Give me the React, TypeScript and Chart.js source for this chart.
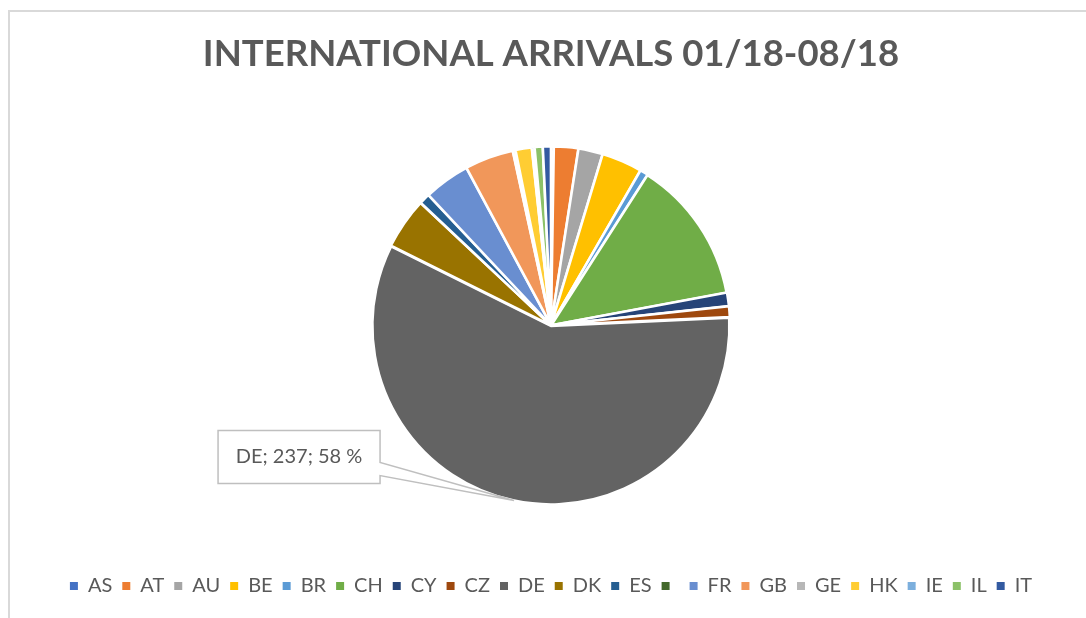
import React, { useEffect, useRef } from "react";
import { Chart, registerables } from "chart.js";

Chart.register(...registerables);

const chartTitle = "INTERNATIONAL ARRIVALS 01/18-08/18";
const categories = ["AS", "AT", "AU", "BE", "BR", "CH", "CY", "CZ", "DE", "DK", "ES", "", "FR", "GB", "GE", "HK", "IE", "IL", "IT"];
const arrivals = [1, 9, 9, 15, 3, 53, 5, 4, 237, 19, 4, 0, 17, 18, 1, 6, 1, 3, 3];
const sliceColors = [
  "#4472C4", "#ED7D31", "#A5A5A5", "#FFC000", "#5B9BD5", "#70AD47",
  "#264478", "#9E480E", "#636363", "#997300", "#255E91", "#43682B",
  "#698ED0", "#F1975A", "#B7B7B7", "#FFCD33", "#7CAFDD", "#8CC168", "#335AA1",
];
const calloutCategory = "DE";

const FONT = "Lato, 'Open Sans', sans-serif";
const TEXT = "#595959";

const calloutPlugin = {
  id: "deCallout",
  afterDatasetsDraw(chart: any) {
    const idx = categories.indexOf(calloutCategory);
    const meta = chart.getDatasetMeta(0);
    const arc = meta.data[idx];
    if (!arc) return;
    const p = arc.getProps(["x", "y", "startAngle", "endAngle", "outerRadius"], true);
    const mid = (p.startAngle + p.endAngle) / 2;
    const tipX = p.x + Math.cos(mid) * (p.outerRadius + 1);
    const tipY = p.y + Math.sin(mid) * (p.outerRadius + 1);
    const w = 162, h = 53;
    const left = tipX - 296;
    const top = tipY - 70;
    const right = left + w;
    const bottom = top + h;
    const ctx = chart.ctx;
    ctx.save();
    ctx.beginPath();
    ctx.moveTo(left, top);
    ctx.lineTo(right, top);
    ctx.lineTo(right, top + 32);
    ctx.lineTo(tipX, tipY);
    ctx.lineTo(right, top + 45);
    ctx.lineTo(right, bottom);
    ctx.lineTo(left, bottom);
    ctx.closePath();
    ctx.fillStyle = "#ffffff";
    ctx.fill();
    ctx.strokeStyle = "#bfbfbf";
    ctx.lineWidth = 1.5;
    ctx.stroke();
    const total = arrivals.reduce((a, b) => a + b, 0);
    const value = arrivals[idx];
    const pct = Math.round((value / total) * 100);
    ctx.fillStyle = TEXT;
    ctx.font = `20px ${FONT}`;
    ctx.textAlign = "center";
    ctx.textBaseline = "middle";
    ctx.fillText(`${categories[idx]}; ${value}; ${pct} %`, (left + right) / 2, (top + bottom) / 2);
    ctx.restore();
  },
};

export default function App() {
  const ref = useRef<HTMLCanvasElement | null>(null);

  useEffect(() => {
    if (!ref.current) return;
    const chart = new Chart(ref.current, {
      type: "pie",
      data: {
        labels: categories,
        datasets: [
          {
            data: arrivals,
            backgroundColor: sliceColors,
            borderColor: "#ffffff",
            borderWidth: 2.5,
            offset: 2,
          },
        ],
      },
      options: {
        responsive: false,
        animation: false,
        events: [],
        radius: 178,
        layout: { padding: { left: 16, right: 0, top: 0, bottom: 12 } },
        plugins: {
          tooltip: { enabled: false },
          title: {
            display: true,
            text: chartTitle,
            color: TEXT,
            font: { family: FONT, size: 36.5, weight: "bold", lineHeight: 1.2 },
            padding: { top: 32, bottom: 9 },
          },
          legend: {
            display: true,
            position: "bottom",
            labels: {
              color: TEXT,
              font: { family: FONT, size: 20 },
              boxWidth: 8,
              boxHeight: 8,
              padding: 10,
              generateLabels: (c: any) => {
                const base = (Chart as any).overrides.pie.plugins.legend.labels.generateLabels(c);
                return base.map((it: any) => ({ ...it, lineWidth: 0, strokeStyle: "rgba(0,0,0,0)", hidden: false }));
              },
            },
          },
        },
      } as any,
      plugins: [calloutPlugin],
    });
    return () => chart.destroy();
  }, []);

  return (
    <>
      <div
        style={{
          position: "fixed",
          left: 8,
          top: 10,
          width: 1078,
          height: 608,
          borderLeft: "2px solid #d9d9d9",
          borderTop: "2px solid #d9d9d9",
          boxSizing: "border-box",
        }}
      />
      <canvas
        ref={ref}
        width={1086}
        height={618}
        style={{ position: "fixed", left: 0, top: 0, width: 1086, height: 618 }}
      />
    </>
  );
}
